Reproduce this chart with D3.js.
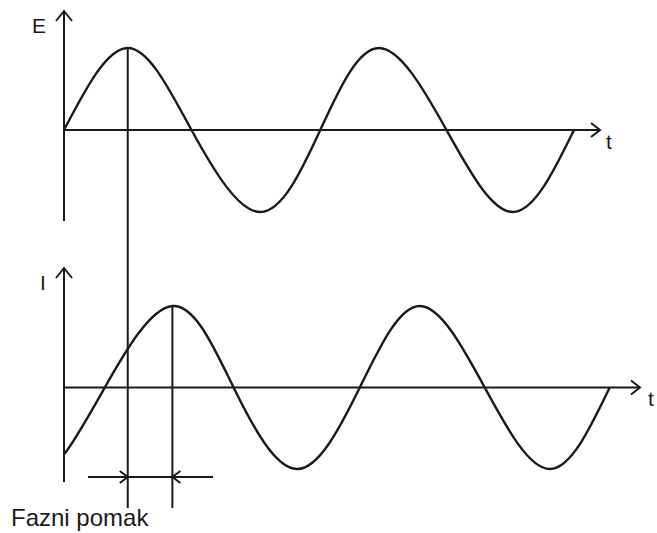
<!DOCTYPE html>
<html>
<head>
<meta charset="utf-8">
<script src="https://cdn.jsdelivr.net/npm/d3@7"></script>
<style>
  body { margin: 0; background: #fff; }
  text { font-family: "Liberation Sans", Arial, sans-serif; fill: #1a1a1a; }
</style>
</head>
<body>
<div id="main"></div>
<script>
// DATA (t in ms, values normalised to the amplitude)
const tE = [0, 5, 10, 15.4, 20.1, 24.7, 30, 35.2, 40]
const vE = [0, 1, 0, -1, 0, 1, 0, -1, 0]
// I starts part-way up from a trough that lies just left of the vertical axis
const tI = [-1.9, 0, 3.2, 8.5, 13.3, 18.3, 23.2, 27.9, 33, 38.1, 42.8]
const vI = [-1, -0.82, 0, 1, 0, -1, 0, 1, 0, -1, 0]
const shift = [5, 8.5]   // peak of E, peak of I
const labels = {E: "E", I: "I", t: "t", shift: "Fazni pomak"}

// SETUP
const width = 657, height = 533
const ink = '#1a1a1a'

let svg = d3.select("#main").append("svg")
  .attr("width", width)
  .attr("height", height)

let x = d3.scaleLinear().domain([0, 40]).range([64, 574])
let yE = d3.scaleLinear().domain([-1, 1]).range([212, 48])
let yI = d3.scaleLinear().domain([-1, 1]).range([469, 306])

svg.append("clipPath").attr("id", "plot")
  .append("rect")
    .attr("x", x(0)).attr("y", 0)
    .attr("width", width - x(0)).attr("height", height)

function line(y) {
  return d3.line()
    .x(d => x(d[0]))
    .y(d => y(d[1]))
    .curve(d3.curveNatural)
}

function seg(x1, y1, x2, y2) {
  svg.append("line")
    .attr("x1", x1).attr("y1", y1).attr("x2", x2).attr("y2", y2)
    .attr("stroke", ink).attr("stroke-width", 2)
}

function chevron(pts) {
  svg.append("path")
    .attr("d", d3.line()(pts))
    .attr("fill", "none").attr("stroke", ink).attr("stroke-width", 2)
}

// curves
svg.append("path")
  .attr("d", line(yE)(d3.zip(tE, vE)))
  .attr("fill", "none").attr("stroke", ink).attr("stroke-width", 2.4)

svg.append("path")
  .attr("d", line(yI)(d3.zip(tI, vI)))
  .attr("clip-path", "url(#plot)")
  .attr("fill", "none").attr("stroke", ink).attr("stroke-width", 2.4)

// axes
function axes(y, top, bottom, right, name, nameX, nameY, tX, tY) {
  let x0 = x(0), y0 = y(0)
  seg(x0, top, x0, bottom)
  chevron([[x0 - 8, top + 10], [x0, top], [x0 + 8, top + 10]])
  seg(x0, y0, right, y0)
  chevron([[right - 9, y0 - 7], [right, y0], [right - 9, y0 + 7]])
  svg.append("text").attr("x", nameX).attr("y", nameY)
    .attr("font-size", 21).text(name)
  svg.append("text").attr("x", tX).attr("y", tY)
    .attr("font-size", 21).text(labels.t)
}

axes(yE, 11, 221, 600, labels.E, 32, 33, 606, 149)
axes(yI, 268, 482, 640, labels.I, 40, 290, 648, 406)

// phase shift markers
const arrowY = 477
seg(x(shift[0]), yE(1), x(shift[0]), 508)
seg(x(shift[1]), yI(1), x(shift[1]), 508)
seg(88, arrowY, 213, arrowY)
chevron([[x(shift[0]) - 8, arrowY - 6], [x(shift[0]), arrowY], [x(shift[0]) - 8, arrowY + 6]])
chevron([[x(shift[1]) + 8, arrowY - 6], [x(shift[1]), arrowY], [x(shift[1]) + 8, arrowY + 6]])

svg.append("text").attr("x", 11).attr("y", 526)
  .attr("font-size", 24).text(labels.shift)
</script>
</body>
</html>
